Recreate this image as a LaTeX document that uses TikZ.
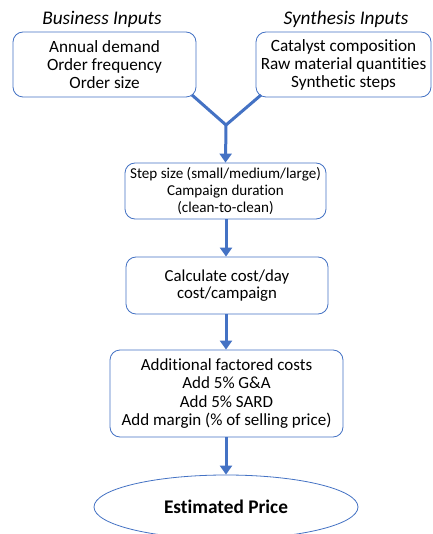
\documentclass[tikz,border=0pt]{standalone}
\usepackage{fontspec}
\setmainfont[Ligatures={NoCommon}]{Carlito}
\usetikzlibrary{shapes.geometric,arrows.meta}
\definecolor{bl}{HTML}{4472C4}
\tikzset{
  box/.style={draw=bl, line width=0.8pt, rounded corners=10pt, align=center, inner sep=0pt},
  flow/.style={draw=bl, line width=3pt},
  arr/.style={flow, -{Triangle[length=9pt,width=12pt]}},
  ttl/.style={font=\fontsize{19.3}{20}\selectfont\itshape}
}
\begin{document}
\begin{tikzpicture}[x=1pt,y=-1pt]
\useasboundingbox (0,0) rectangle (432,534);
\clip (0,0) rectangle (432,534);
\fill[white] (0,0) rectangle (432,534);
\node[ttl] (t1) at (102,19) {Business Inputs};
\node[ttl] (t2) at (346,19) {Synthesis Inputs};
\node[box, minimum width=183pt, minimum height=65pt, font=\fontsize{17.2}{18}\selectfont] (b1) at (104.5,64.5) {Annual demand\\Order frequency\\Order size};
\node[box, minimum width=175pt, minimum height=65pt, font=\fontsize{17.2}{18}\selectfont] (b2) at (343.5,64.5) {Catalyst composition\\Raw material quantities\\Synthetic steps};
\coordinate (j) at (226,125);
\node[box, minimum width=201pt, minimum height=56pt, font=\fontsize{15.1}{17}\selectfont] (b3) at (225.5,191) {Step size (small/medium/large)\\Campaign duration\\(clean-to-clean)};
\node[box, minimum width=202pt, minimum height=57pt, font=\fontsize{16.8}{17}\selectfont] (b4) at (227,285.5) {Calculate cost/day\\cost/campaign};
\node[box, minimum width=233pt, minimum height=87pt, font=\fontsize{17}{18.5}\selectfont] (b5) at (226.5,393.5) {Additional factored costs\\Add 5\% G\&A\\Add 5\% SARD\\Add margin (\% of selling price)};
\node[ellipse, draw=bl, line width=0.8pt, minimum width=264pt, minimum height=64pt, inner sep=0pt, font=\fontsize{19.3}{20}\selectfont\bfseries] (e) at (226,507) {Estimated Price};
\draw[flow] (192,95) -- (j);
\draw[flow] (261,95) -- (j);
\draw[arr] (j) -- (b3.north);
\draw[arr] (b3.south -| j) -- (b4.north -| j);
\draw[arr] (b4.south -| j) -- (b5.north -| j);
\draw[arr] (b5.south -| j) -- (e.north);
\end{tikzpicture}
\end{document}
